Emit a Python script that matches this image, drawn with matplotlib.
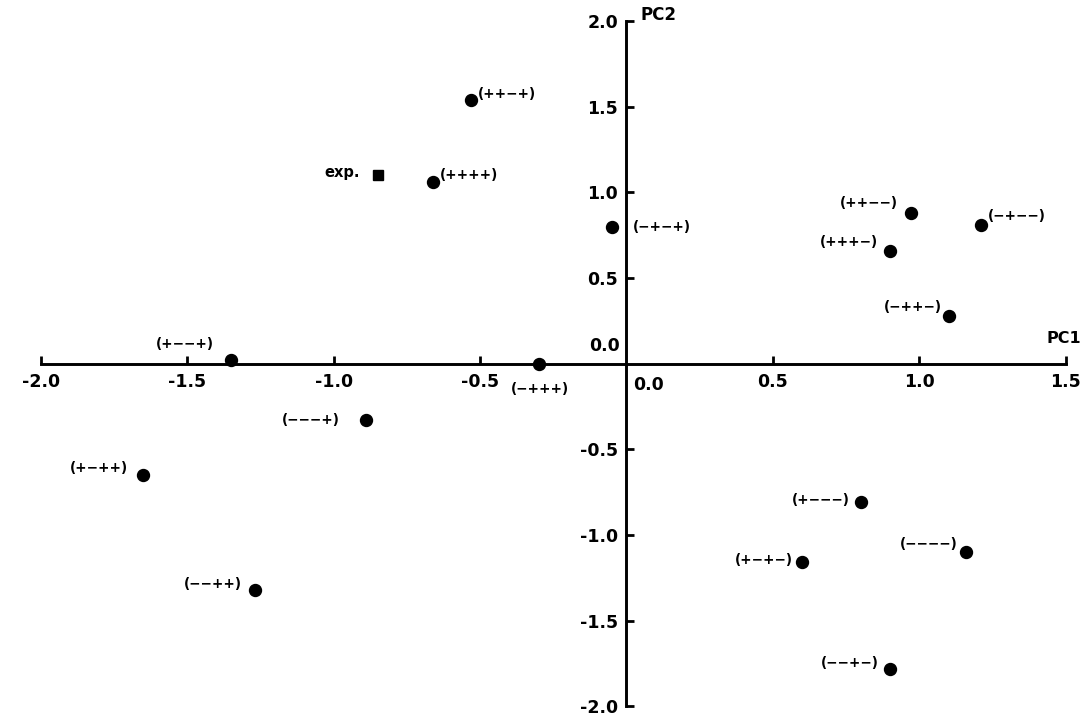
import matplotlib
matplotlib.use("Agg")
import matplotlib.pyplot as plt

plt.rcParams['font.family'] = ['DejaVu Sans']

# Data (PC1, PC2)
labels = ["(++−+)", "(++++)", "(−+−+)", "(++−−)", "(−+−−)", "(+++−)", "(−++−)",
          "(+−−+)", "(−+++)", "(−−−+)", "(+−++)", "(−−++)",
          "(+−−−)", "(+−+−)", "(−−−−)", "(−−+−)"]
pc1 = [-0.53, -0.66, -0.05, 0.97, 1.21, 0.90, 1.10,
       -1.35, -0.30, -0.89, -1.65, -1.27,
       0.80, 0.60, 1.16, 0.90]
pc2 = [1.54, 1.06, 0.80, 0.88, 0.81, 0.66, 0.28,
       0.02, 0.00, -0.33, -0.65, -1.32,
       -0.81, -1.16, -1.10, -1.78]
exp_pc1 = [-0.85]
exp_pc2 = [1.10]

xtick_vals = [-2.0, -1.5, -1.0, -0.5, 0.5, 1.0, 1.5]
xtick_labels = ["-2.0", "-1.5", "-1.0", "-0.5", "0.5", "1.0", "1.5"]
ytick_vals = [-2.0, -1.5, -1.0, -0.5, 0.5, 1.0, 1.5, 2.0]
ytick_labels = ["-2.0", "-1.5", "-1.0", "-0.5", "0.5", "1.0", "1.5", "2.0"]

# label placement offsets (points): (dx, dy, ha, va)
offsets = {
    "(++−+)": (5, 4, 'left', 'center'),
    "(++++)": (5, 5, 'left', 'center'),
    "(−+−+)": (15, 0, 'left', 'center'),
    "(++−−)": (-9, 7, 'right', 'center'),
    "(−+−−)": (5, 6, 'left', 'center'),
    "(+++−)": (-9, 6, 'right', 'center'),
    "(−++−)": (-5, 6, 'right', 'center'),
    "(+−−+)": (-33, 12, 'center', 'center'),
    "(−+++)": (1, -18, 'center', 'center'),
    "(−−−+)": (-19, 0, 'right', 'center'),
    "(+−++)": (-11, 5, 'right', 'center'),
    "(−−++)": (-9, 4, 'right', 'center'),
    "(+−−−)": (-8, 2, 'right', 'center'),
    "(+−+−)": (-7, 2, 'right', 'center'),
    "(−−−−)": (-6, 6, 'right', 'center'),
    "(−−+−)": (-8, 4, 'right', 'center'),
}

fig = plt.figure(figsize=(10.81, 7.16), dpi=100)
ax = fig.add_axes([0.0377, 0.0135, 0.9482, 0.9573])
ax.set_xlim(-2.0, 1.5)
ax.set_ylim(-2.0, 2.0)

for s in ['top', 'right']:
    ax.spines[s].set_visible(False)
ax.spines['left'].set_position(('data', 0))
ax.spines['bottom'].set_position(('data', 0))
for s in ['left', 'bottom']:
    ax.spines[s].set_linewidth(2.1)
    ax.spines[s].set_color('black')

ax.set_xticks(xtick_vals)
ax.set_xticklabels(xtick_labels, fontsize=12.5, fontweight='bold')
ax.set_yticks(ytick_vals)
ax.set_yticklabels(ytick_labels, fontsize=12.5, fontweight='bold')
ax.tick_params(axis='x', direction='in', length=6, width=2, pad=7)
ax.tick_params(axis='y', direction='in', length=6, width=2, pad=6)

# zero labels
ax.annotate("0.0", xy=(0, 0), xytext=(5, -9), textcoords='offset points',
            ha='left', va='top', fontsize=12.5, fontweight='bold')
ax.annotate("0.0", xy=(0, 0), xytext=(-5, 6), textcoords='offset points',
            ha='right', va='bottom', fontsize=12.5, fontweight='bold')

# axis names
ax.annotate("PC1", xy=(1.5, 0), xytext=(-14, 18), textcoords='offset points',
            ha='left', va='center', fontsize=11.5, fontweight='bold')
ax.annotate("PC2", xy=(0, 2.0), xytext=(10, 4), textcoords='offset points',
            ha='left', va='center', fontsize=12, fontweight='bold')

ax.plot(pc1, pc2, 'o', color='black', markersize=8.6, clip_on=False, zorder=3)
ax.plot(exp_pc1, exp_pc2, 's', color='black', markersize=6.5, clip_on=False, zorder=3)

for lab, x, y in zip(labels, pc1, pc2):
    dx, dy, ha, va = offsets[lab]
    ax.annotate(lab, xy=(x, y), xytext=(dx, dy), textcoords='offset points',
                ha=ha, va=va, fontsize=9.8, fontweight='bold')

ax.annotate("exp.", xy=(exp_pc1[0], exp_pc2[0]), xytext=(-13, 2), textcoords='offset points',
            ha='right', va='center', fontsize=10.5, fontweight='bold')

fig.savefig("out.png", dpi=100)
